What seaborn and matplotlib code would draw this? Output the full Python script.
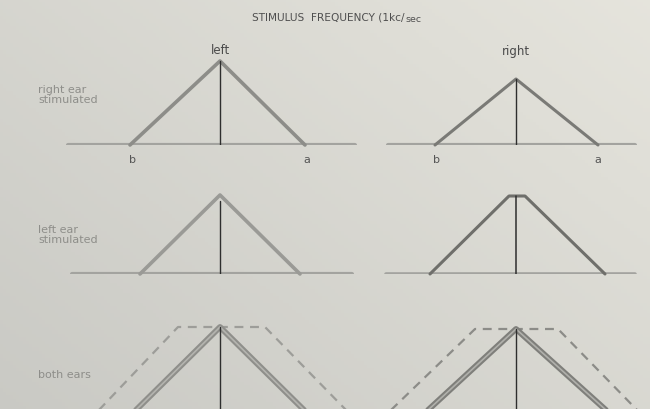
import numpy as np
import matplotlib
matplotlib.use("Agg")
import matplotlib.pyplot as plt
import seaborn as sns

sns.set_theme(style="white")
plt.rcParams["font.family"] = ["DejaVu Sans"]

# Response curves: frequency offset from the probe tone (arbitrary steps) vs. response
r1_left_x, r1_left_y = [-90, 0, 85], [0, 84, 0]
r1_right_x, r1_right_y = [-81, 0, 82], [0, 66, 0]
r2_left_x, r2_left_y = [-80, 0, 80], [0, 79, 0]
r2_right_x, r2_right_y = [-86, -7, 9, 89], [0, 78, 78, 0]
r3_left_x, r3_left_y = [-85, 0, 85], [0, 84, 0]
r3_left_dash_x, r3_left_dash_y = [-122, -42, 45, 127], [0, 84, 84, 0]
r3_right_x, r3_right_y = [-89, 0, 91], [0, 82, 0]
r3_right_dash_x, r3_right_dash_y = [-126, -41, 42, 122], [0, 82, 82, 0]

# Extent of the frequency axis drawn under each panel
base_r1_left, base_r1_right = [-152, 135], [-128, 119]
base_r2_left, base_r2_right = [-148, 132], [-130, 119]

# Peak height of the probe line in each panel
peak = {"r1l": 84, "r1r": 66, "r2l": 79, "r2r": 78, "r3l": 84, "r3r": 82}

column_titles = ["left", "right"]
row_titles = ["right ear\nstimulated", "left ear\nstimulated", "both ears"]
foot_labels = ["b", "a"]

W, H = 650, 410
fig = plt.figure(figsize=(W / 100, H / 100), dpi=100)

# paper tone with a soft gradient
bg = fig.add_axes([0, 0, 1, 1])
gx, gy = np.meshgrid(np.linspace(0, 1, 200), np.linspace(0, 1, 120))
shade = 0.55 * gx + 0.45 * (1 - gy)
c0 = np.array([0.79, 0.79, 0.77])
c1 = np.array([0.90, 0.895, 0.865])
img = c0[None, None, :] + shade[..., None] * (c1 - c0)[None, None, :]
bg.imshow(img, aspect="auto", extent=[0, 1, 0, 1], origin="upper")
bg.set_axis_off()

CURVE = "#8d8d89"
BASE = "#a3a39f"
PROBE = "#2e2e2e"


def panel(cx, base_y):
    ax = fig.add_axes([(cx - 160) / W, (H - base_y) / H, 320 / W, 100 / H])
    ax.set_xlim(-160, 160)
    ax.set_ylim(0, 100)
    ax.set_axis_off()
    ax.patch.set_alpha(0)
    return ax


def curve(ax, x, y, color=CURVE, lw=2.6, ls="-"):
    sns.lineplot(x=x, y=y, ax=ax, sort=False, color=color, linewidth=lw,
                 linestyle=ls, solid_capstyle="round", clip_on=False)


LCX, RCX = 220, 516

# row 1: right ear stimulated
a = panel(LCX, 146)
sns.lineplot(x=base_r1_left, y=[0, 0], ax=a, color=BASE, linewidth=3)
curve(a, r1_left_x, r1_left_y)
a.plot([0, 0], [0, peak["r1l"]], color=PROBE, lw=1)
a.text(0, 95, column_titles[0], ha="center", va="center", fontsize=8.5, color="#4a4a4a")
a.text(r1_left_x[0] + 2, -14, foot_labels[0], ha="center", va="center", fontsize=8, color="#555555")
a.text(r1_left_x[-1] + 2, -14, foot_labels[1], ha="center", va="center", fontsize=8, color="#555555")

a = panel(RCX, 146)
sns.lineplot(x=base_r1_right, y=[0, 0], ax=a, color=BASE, linewidth=3)
curve(a, r1_right_x, r1_right_y, color="#7a7a76", lw=2.2)
a.plot([0, 0], [0, peak["r1r"]], color=PROBE, lw=1)
a.text(0, 95, column_titles[1], ha="center", va="center", fontsize=8.5, color="#4a4a4a")
a.text(r1_right_x[0] + 1, -14, foot_labels[0], ha="center", va="center", fontsize=8, color="#555555")
a.text(r1_right_x[-1], -14, foot_labels[1], ha="center", va="center", fontsize=8, color="#555555")

# row 2: left ear stimulated
a = panel(LCX, 275)
sns.lineplot(x=base_r2_left, y=[0, 0], ax=a, color=BASE, linewidth=3)
curve(a, r2_left_x, r2_left_y, color="#9a9a96")
a.plot([0, 0], [0, peak["r2l"] - 6], color=PROBE, lw=1)

a = panel(RCX, 275)
sns.lineplot(x=base_r2_right, y=[0, 0], ax=a, color=BASE, linewidth=2.6)
curve(a, r2_right_x, r2_right_y, color="#6f6f6b", lw=2.2)
a.plot([0, 0], [0, peak["r2r"]], color=PROBE, lw=1.1)

# row 3: both ears
a = panel(LCX, 412)
curve(a, r3_left_dash_x, r3_left_dash_y, color="#9d9d99", lw=1.6, ls=(0, (4, 3)))
curve(a, r3_left_x, r3_left_y, color="#8f8f8b", lw=4.2)
curve(a, r3_left_x, r3_left_y, color="#b4b4af", lw=1.2)
a.plot([0, 0], [0, peak["r3l"]], color=PROBE, lw=1)

a = panel(RCX, 412)
curve(a, r3_right_dash_x, r3_right_dash_y, color="#8c8c88", lw=1.6, ls=(0, (4, 3)))
curve(a, r3_right_x, r3_right_y, color="#7f7f7b", lw=4.2)
curve(a, r3_right_x, r3_right_y, color="#b0b0ab", lw=1.2)
a.plot([0, 0], [0, peak["r3r"]], color=PROBE, lw=1)

# heading, with the unit tail set smaller right after the main text
head = fig.text(252 / W, 1 - 18 / H, "STIMULUS  FREQUENCY (1kc/", ha="left", va="center",
                fontsize=7.6, color="#4f4f4f")
renderer = fig.canvas.get_renderer()
bb = head.get_window_extent(renderer=renderer)
fig.text(bb.x1 / W + 0.5 / W, 1 - 20 / H, "sec", ha="left", va="center",
         fontsize=6.8, color="#4f4f4f")

row_y = [95, 235, 375]
for txt, yy in zip(row_titles, row_y):
    fig.text(38 / W, 1 - yy / H, txt, ha="left", va="center", fontsize=8,
             color="#8e8e8a", linespacing=1.05)

fig.savefig("out.png", dpi=100)
